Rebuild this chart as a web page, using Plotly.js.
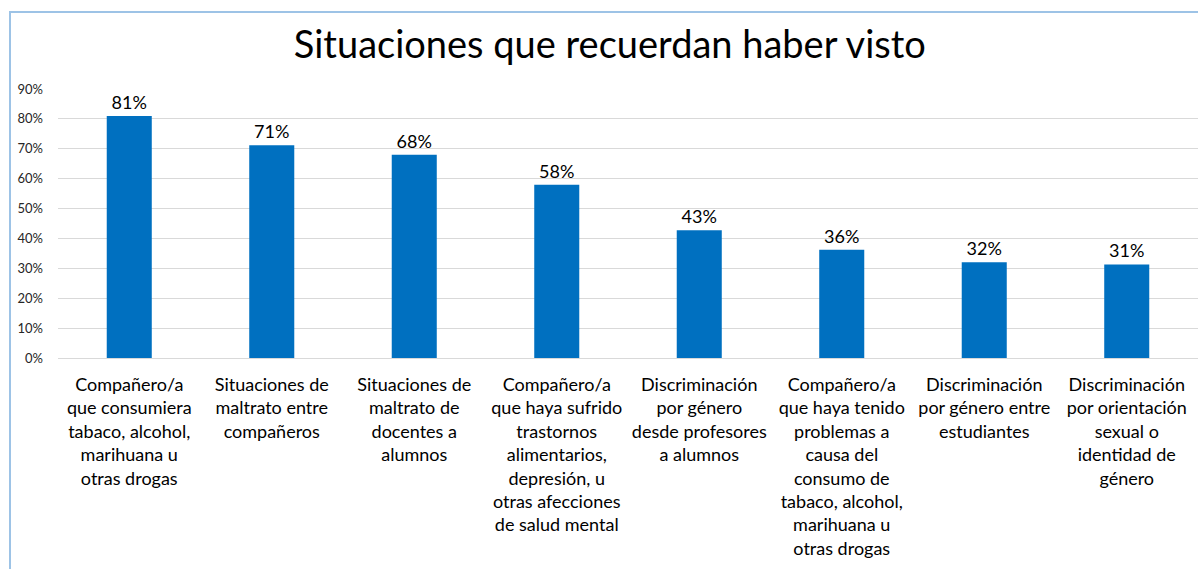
<!DOCTYPE html>
<html>
<head>
<meta charset="utf-8">
<script src="https://cdn.plot.ly/plotly-3.0.1.min.js"></script>
<style>
  html, body { margin: 0; padding: 0; background: #fff; }
  #wrap { position: relative; width: 1198px; height: 569px; overflow: hidden; }
  #chart { position: absolute; left: 0; top: 0; width: 1198px; height: 569px; }
  #frame { position: absolute; left: 9px; top: 11px; width: 1300px; height: 700px;
           border-left: 2px solid #9DC3E6; border-top: 2px solid #9DC3E6; pointer-events: none; }
</style>
</head>
<body>
<div id="wrap">
  <div id="chart"></div>
  <div id="frame"></div>
</div>
<script>
const categories = [
  "Compañero/a<br>que consumiera<br>tabaco, alcohol,<br>marihuana u<br>otras drogas",
  "Situaciones de<br>maltrato entre<br>compañeros",
  "Situaciones de<br>maltrato de<br>docentes a<br>alumnos",
  "Compañero/a<br>que haya sufrido<br>trastornos<br>alimentarios,<br>depresión, u<br>otras afecciones<br>de salud mental",
  "Discriminación<br>por género<br>desde profesores<br>a alumnos",
  "Compañero/a<br>que haya tenido<br>problemas a<br>causa del<br>consumo de<br>tabaco, alcohol,<br>marihuana u<br>otras drogas",
  "Discriminación<br>por género entre<br>estudiantes",
  "Discriminación<br>por orientación<br>sexual o<br>identidad de<br>género"
];
const values = [0.81, 0.712, 0.68, 0.58, 0.427, 0.362, 0.32, 0.313];
const valueLabels = ["81%", "71%", "68%", "58%", "43%", "36%", "32%", "31%"];
const yTickVals = [0, 0.1, 0.2, 0.3, 0.4, 0.5, 0.6, 0.7, 0.8, 0.9];
const yTickText = ["0%", "10%", "20%", "30%", "40%", "50%", "60%", "70%", "80%", "90%"];
const titleText = "Situaciones que recuerdan haber visto";

const xIdx = categories.map((_, i) => i);

const trace = {
  type: "bar",
  x: xIdx,
  y: values,
  text: valueLabels,
  texttemplate: "%{text}",
  textposition: "outside",
  cliponaxis: false,
  textfont: { family: "Lato, sans-serif", size: 18, color: "#000" },
  marker: { color: "#0070C0" },
  hoverinfo: "skip"
};

const layout = {
  width: 1198,
  height: 569,
  margin: { l: 58, r: 0, t: 89, b: 211 },
  paper_bgcolor: "rgba(0,0,0,0)",
  plot_bgcolor: "rgba(0,0,0,0)",
  bargap: 0.684,
  showlegend: false,
  title: {
    text: titleText,
    font: { family: "Lato, sans-serif", size: 38, color: "#000" },
    xref: "container", x: 0.509, xanchor: "center",
    yref: "container", y: 0.945, yanchor: "top"
  },
  xaxis: {
    type: "linear",
    range: [-0.5, 7.5],
    tickvals: xIdx,
    ticktext: categories,
    tickangle: 0,
    showgrid: false,
    zeroline: false,
    showline: false,
    ticks: "",
    ticklabelstandoff: 14,
    tickfont: { family: "Lato, sans-serif", size: 18, color: "#000" }
  },
  yaxis: {
    range: [0, 0.9],
    tickvals: yTickVals,
    ticktext: yTickText,
    showgrid: true,
    gridcolor: "#D9D9D9",
    gridwidth: 1,
    zeroline: true,
    zerolinecolor: "#D9D9D9",
    zerolinewidth: 1,
    showline: false,
    ticks: "",
    ticklabelstandoff: 14,
    tickfont: { family: "Lato, sans-serif", size: 13, color: "#262626" }
  }
};

Plotly.newPlot("chart", [trace], layout, { displayModeBar: false, staticPlot: true });
</script>
</body>
</html>
